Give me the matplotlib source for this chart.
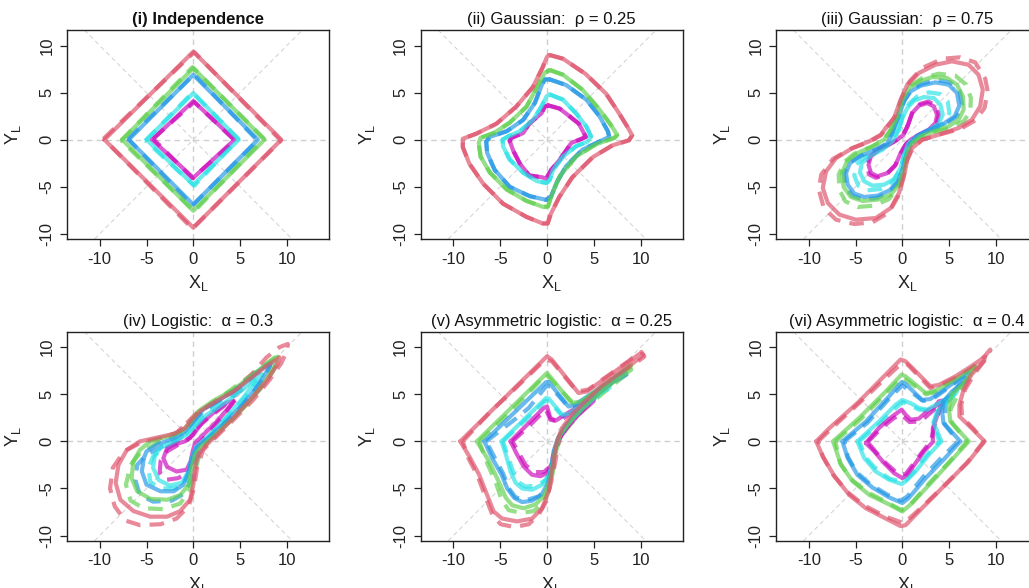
import matplotlib
matplotlib.use('Agg')
import matplotlib.pyplot as plt

plt.rcParams['font.family'] = ['Liberation Sans', 'DejaVu Sans']
plt.rcParams['mathtext.fontset'] = 'custom'
plt.rcParams['mathtext.rm'] = 'Liberation Sans'
plt.rcParams['mathtext.it'] = 'Liberation Sans:italic'
plt.rcParams['axes.unicode_minus'] = False

# level colours, inner to outer (R 4 palette)
level_cols = ['#CD0BBC', '#28E2E5', '#2297E6', '#61D04F', '#DF536B']

titles = ['(i) Independence', '(ii) Gaussian:  ρ = 0.25', '(iii) Gaussian:  ρ = 0.75',
          '(iv) Logistic:  α = 0.3', '(v) Asymmetric logistic:  α = 0.25',
          '(vi) Asymmetric logistic:  α = 0.4']
ticks = [-10, -5, 0, 5, 10]

# (i) independence: solid = true, dashed = estimated
indep_solid = [
    [(-4.4, 0), (0, 4.1), (4.4, 0), (0, -4.05)],
    [(-5.0, 0), (0, 4.95), (4.85, 0), (0, -4.8)],
    [(-6.9, 0), (0, 6.9), (6.9, 0), (0, -6.9)],
    [(-7.6, 0), (0, 7.6), (7.6, 0), (0, -7.55)],
    [(-9.5, 0), (0, 9.35), (9.4, 0), (0, -9.35)],
]
indep_dashed = [
    [(-4.3, 0.1), (0.1, 4.0), (4.45, -0.1), (-0.1, -4.1)],
    [(-5.1, -0.1), (-0.1, 5.0), (4.8, 0.1), (0.1, -4.9)],
    [(-7.0, 0.1), (0.1, 6.95), (6.85, -0.1), (-0.1, -7.0)],
    [(-7.7, -0.1), (-0.1, 7.7), (7.55, 0.1), (0.1, -7.6)],
    [(-9.6, 0.1), (0.1, 9.3), (9.35, -0.1), (-0.1, -9.45)],
]

# (ii) Gaussian rho = 0.25
g25_solid = [
    [(0.1, 3.65), (1.35, 3.3), (2.0, 2.8), (3.4, 1.7), (4.15, 0.3), (3.65, 0.07), (2.6, -0.35),
     (1.3, -2.2), (0.45, -3.2), (-0.1, -4.15), (-0.5, -4.0), (-1.9, -3.8), (-2.9, -2.55),
     (-3.6, -1.2), (-4.0, -0.1), (-3.8, 0.2), (-2.55, 0.7), (-1.9, 1.7), (-0.6, 2.8), (-0.25, 3.5)],
    [(0.3, 4.8), (1.7, 4.25), (3.1, 2.8), (4.2, 1.4), (4.7, 0.35), (4.35, -0.2), (3.1, -0.7),
     (1.7, -1.8), (0.65, -3.2), (0.3, -4.25), (-0.05, -4.6), (-1.1, -4.4), (-2.55, -3.5),
     (-4.0, -2.1), (-4.7, -0.7), (-4.75, 0.0), (-4.15, 0.35), (-2.9, 0.9), (-1.5, 2.1),
     (-0.6, 3.5), (-0.05, 4.6)],
    [(0.3, 6.4), (2.05, 5.8), (4.2, 4.25), (5.6, 2.5), (6.5, 0.9), (6.65, 0.3), (5.6, -0.2),
     (3.8, -1.05), (2.05, -2.8), (1.0, -4.6), (0.45, -6.0), (-0.05, -6.4), (-1.85, -6.0),
     (-4.0, -5.0), (-5.6, -3.2), (-6.4, -1.4), (-6.5, -0.2), (-6.1, 0.3), (-4.3, 0.9),
     (-2.55, 2.1), (-1.3, 3.9), (-0.6, 5.7), (-0.25, 6.4)],
    [(0.3, 7.4), (1.7, 6.9), (3.8, 5.3), (5.6, 3.2), (6.8, 1.6), (7.5, 0.5), (7.2, 0.2),
     (5.2, -0.5), (3.1, -1.8), (1.35, -3.9), (0.45, -6.0), (0.1, -7.1), (-0.4, -7.15),
     (-2.2, -6.5), (-4.3, -5.3), (-6.1, -3.5), (-7.1, -1.8), (-7.3, -0.35), (-7.1, 0.2),
     (-5.7, 0.7), (-4.0, 1.8), (-2.2, 3.5), (-1.0, 5.7), (-0.25, 7.1)],
    [(0.25, 9.0), (1.7, 8.6), (4.1, 7.0), (6.3, 4.9), (7.7, 2.8), (8.6, 1.35), (9.1, 0.46),
     (8.75, -0.07), (7.0, -0.6), (4.9, -1.85), (2.7, -4.0), (1.3, -6.1), (0.4, -7.9),
     (0.07, -8.9), (-0.46, -8.9), (-2.2, -8.2), (-4.7, -6.8), (-6.8, -4.7), (-8.3, -2.55),
     (-9.0, -0.8), (-9.0, 0.1), (-7.55, 0.64), (-5.4, 1.7), (-3.3, 3.5), (-1.5, 5.6),
     (-0.46, 7.7), (0.0, 8.8)],
]
g25_dashed = g25_solid

# (iii) Gaussian rho = 0.75
g75_solid = [
    [(0.53, 1.42), (1.06, 2.83), (1.77, 3.61), (2.65, 3.89), (3.36, 3.54), (3.72, 2.65),
     (3.54, 1.77), (2.83, 1.06), (1.77, 0.53), (0.88, 0.0), (0.35, -0.53), (-0.18, -1.42),
     (-0.71, -2.65), (-1.59, -3.54), (-2.65, -3.89), (-3.36, -3.54), (-3.61, -2.65),
     (-3.36, -1.77), (-2.48, -1.06), (-1.42, -0.53), (-0.53, 0.0), (0.1, 0.5)],
    [(-0.35, 1.06), (0.0, 2.30), (0.53, 3.36), (1.24, 4.14), (2.30, 4.53), (3.36, 4.42),
     (4.07, 3.72), (4.32, 2.65), (3.89, 1.70), (2.83, 0.99), (1.59, 0.35), (0.64, -0.42),
     (0.18, -1.59), (-0.18, -3.01), (-0.88, -4.18), (-1.95, -4.78), (-3.19, -4.88),
     (-4.07, -4.42), (-4.53, -3.47), (-4.32, -2.48), (-3.36, -1.70), (-2.12, -1.06),
     (-1.06, -0.18)],
    [(-0.88, 1.24), (-0.35, 2.65), (0.18, 4.07), (0.88, 5.13), (1.95, 5.73), (3.54, 6.09),
     (4.96, 5.84), (5.84, 4.96), (6.09, 3.61), (5.59, 2.48), (4.42, 1.70), (2.83, 1.06),
     (1.59, 0.42), (0.88, -0.35), (0.46, -1.49), (0.07, -3.01), (-0.46, -4.42),
     (-1.35, -5.38), (-2.65, -5.95), (-4.07, -6.09), (-5.13, -5.73), (-5.84, -4.78),
     (-6.02, -3.54), (-5.59, -2.48), (-4.42, -1.70), (-2.83, -1.06), (-1.59, -0.42)],
    [(-1.24, 1.06), (-0.53, 2.48), (0.0, 4.25), (0.71, 5.49), (1.77, 6.19), (3.19, 6.65),
     (4.78, 6.55), (5.84, 5.84), (6.48, 4.60), (6.55, 3.19), (6.02, 2.12), (4.96, 1.42),
     (3.36, 0.88), (1.95, 0.35), (1.06, -0.35), (0.53, -1.42), (0.18, -3.19), (-0.35, -4.78),
     (-1.24, -5.84), (-2.65, -6.37), (-4.25, -6.51), (-5.49, -6.09), (-6.27, -5.03),
     (-6.44, -3.54), (-5.91, -2.30), (-4.78, -1.42), (-3.19, -0.71), (-1.95, 0.0)],
    [(-1.77, 1.24), (-0.88, 2.30), (-0.18, 4.25), (0.53, 5.84), (1.77, 7.08), (3.54, 7.96),
     (5.31, 8.32), (7.08, 7.96), (8.14, 6.90), (8.60, 5.31), (8.32, 3.54), (7.43, 2.12),
     (6.02, 1.24), (3.89, 0.53), (2.12, 0.0), (1.06, -0.88), (0.53, -2.12), (0.18, -3.89),
     (-0.35, -5.66), (-1.24, -7.26), (-2.83, -8.32), (-4.96, -8.50), (-6.73, -7.96),
     (-7.96, -6.73), (-8.50, -5.13), (-8.14, -3.36), (-7.08, -1.95), (-5.31, -0.88),
     (-3.54, -0.18), (-2.30, 0.53)],
]
g75_dashed = [
    [(0.6, 1.5), (1.1, 3.0), (1.9, 3.8), (2.8, 4.05), (3.55, 3.65), (3.9, 2.7), (3.7, 1.75),
     (2.9, 1.0), (1.8, 0.5), (0.9, 0.0), (0.35, -0.55), (-0.2, -1.5), (-0.8, -2.8),
     (-1.7, -3.7), (-2.8, -4.05), (-3.55, -3.7), (-3.8, -2.75), (-3.5, -1.8), (-2.5, -1.05),
     (-1.45, -0.5), (-0.55, 0.0), (0.1, 0.5)],
    [(-0.35, 1.24), (0.07, 2.65), (0.71, 3.82), (1.59, 4.60), (2.83, 5.03), (4.07, 4.85),
     (4.85, 4.07), (5.03, 2.83), (4.42, 1.70), (3.19, 0.88), (1.77, 0.28), (0.71, -0.53),
     (0.18, -1.77), (-0.25, -3.26), (-1.06, -4.53), (-2.30, -5.24), (-3.72, -5.38),
     (-4.71, -4.88), (-5.13, -3.82), (-4.96, -2.65), (-3.89, -1.77), (-2.48, -1.13),
     (-1.24, -0.28)],
    [(-0.85, 1.3), (-0.3, 2.75), (0.25, 4.25), (1.0, 5.35), (2.1, 5.95), (3.6, 6.35),
     (5.1, 6.1), (6.1, 5.15), (6.4, 3.7), (5.85, 2.5), (4.55, 1.65), (2.9, 1.0), (1.6, 0.4),
     (0.88, -0.35), (0.45, -1.55), (0.05, -3.15), (-0.5, -4.6), (-1.45, -5.6), (-2.75, -6.2),
     (-4.2, -6.35), (-5.35, -5.95), (-6.1, -4.9), (-6.25, -3.6), (-5.75, -2.5), (-4.5, -1.7),
     (-2.85, -1.05), (-1.6, -0.4)],
    [(-1.17, 1.13), (-0.46, 2.65), (0.07, 4.42), (0.88, 5.73), (2.12, 6.55), (3.89, 7.01),
     (5.66, 6.80), (6.83, 5.84), (7.33, 4.42), (7.26, 3.01), (6.55, 1.95), (5.13, 1.24),
     (3.36, 0.78), (1.95, 0.28), (1.06, -0.42), (0.46, -1.59), (0.07, -3.36), (-0.46, -5.13),
     (-1.42, -6.30), (-3.01, -7.01), (-4.78, -7.15), (-6.09, -6.55), (-6.73, -5.31),
     (-6.80, -3.72), (-6.19, -2.37), (-5.13, -1.49), (-3.36, -0.78), (-2.02, -0.07)],
    [(-1.59, 1.35), (-0.78, 2.48), (-0.07, 4.42), (0.78, 6.19), (2.12, 7.61), (4.3, 8.6),
     (6.19, 8.75), (7.79, 8.21), (8.85, 6.50), (9.13, 5.13), (8.78, 3.36), (7.79, 2.05),
     (6.19, 1.13), (3.89, 0.53), (2.12, 0.0), (1.06, -0.99), (0.46, -2.30), (0.07, -4.07),
     (-0.46, -6.02), (-1.42, -7.72), (-3.19, -8.78), (-5.13, -8.96), (-7.08, -8.50),
     (-8.39, -7.26), (-8.92, -5.31), (-8.67, -3.72), (-7.43, -2.05), (-5.49, -0.96),
     (-3.61, -0.25), (-2.30, 0.46)],
]

# (iv) logistic alpha = 0.3
log_solid = [
    [(-2.8, -0.7), (-3.2, -1.8), (-2.8, -2.7), (-1.8, -3.2), (-0.7, -3.0), (-0.28, -2.1),
     (-0.07, -1.06), (0.18, -0.18), (1.06, 0.7), (2.5, 2.1), (3.9, 3.7), (4.3, 4.3),
     (3.5, 4.1), (2.1, 3.0), (0.9, 1.95), (0.0, 0.7), (-0.9, 0.0), (-2.1, -0.35)],
    [(-4.1, -1.4), (-4.3, -2.8), (-3.7, -4.1), (-2.5, -4.7), (-1.24, -4.4), (-0.5, -3.2),
     (-0.18, -1.8), (0.35, -0.5), (1.8, 0.7), (3.5, 2.5), (5.3, 4.6), (6.7, 6.4), (7.4, 7.1),
     (6.4, 6.4), (4.6, 5.0), (2.8, 3.7), (1.24, 2.7), (0.18, 1.6), (-0.7, 0.7), (-2.1, 0.0),
     (-3.4, -0.6)],
    [(-5.3, -1.8), (-5.5, -3.2), (-5.0, -4.6), (-3.5, -5.3), (-2.1, -5.3), (-1.06, -4.6),
     (-0.5, -3.2), (-0.18, -1.8), (0.35, -0.7), (1.6, 0.35), (3.5, 2.1), (5.3, 3.9),
     (6.9, 5.9), (8.2, 8.0), (8.0, 8.2), (6.7, 7.3), (4.8, 5.7), (2.8, 4.4), (1.06, 3.4),
     (0.0, 2.1), (-0.9, 1.06), (-2.1, 0.35), (-3.9, -0.35), (-5.0, -1.06)],
    [(-6.4, -2.1), (-6.6, -3.9), (-6.0, -5.3), (-4.6, -6.1), (-2.8, -6.2), (-1.4, -5.7),
     (-0.5, -4.6), (-0.18, -2.8), (0.18, -1.4), (0.9, -0.5), (2.1, 0.5), (3.9, 2.1),
     (5.7, 3.9), (7.4, 6.0), (8.7, 8.0), (9.0, 9.0), (8.2, 8.5), (6.4, 7.1), (4.3, 5.5),
     (2.1, 4.3), (0.53, 3.2), (-0.35, 1.95), (-1.24, 1.06), (-2.8, 0.53), (-4.6, 0.0),
     (-5.7, -0.9)],
    [(9.2, 8.9), (7.8, 8.0), (6.0, 6.6), (4.3, 5.3), (2.5, 4.3), (0.7, 3.2), (-0.18, 2.3),
     (-0.9, 1.4), (-2.1, 0.8), (-3.9, 0.4), (-5.7, 0.0), (-7.1, -0.9), (-8.0, -2.5),
     (-8.3, -4.4), (-7.8, -6.2), (-6.4, -7.4), (-4.6, -8.0), (-2.8, -8.0), (-1.4, -7.4),
     (-0.35, -6.2), (0.0, -4.6), (0.18, -2.8), (0.53, -1.4), (1.24, -0.53), (2.5, 0.7),
     (4.3, 2.5), (6.0, 4.3), (7.8, 6.4), (9.0, 8.2)],
]
log_dashed = [
    [(0.35, 1.4), (1.6, 2.5), (3.2, 3.7), (4.8, 5.3), (5.1, 5.5), (4.4, 4.3), (3.0, 2.5),
     (1.6, 0.9), (0.53, -0.35), (0.0, -1.8), (-0.53, -3.2), (-1.6, -3.9), (-3.0, -4.1),
     (-3.6, -3.4), (-3.5, -2.1), (-2.8, -1.06), (-1.6, -0.35), (-0.35, 0.35)],
    [(0.0, 1.6), (1.24, 2.8), (3.0, 4.1), (4.8, 5.3), (6.4, 6.6), (6.7, 6.3), (5.5, 4.6),
     (3.7, 2.7), (1.8, 0.7), (0.5, -0.7), (-0.07, -2.5), (-0.7, -4.1), (-1.95, -5.0),
     (-3.5, -5.0), (-4.6, -4.3), (-4.8, -2.8), (-4.3, -1.6), (-3.0, -0.7), (-1.4, 0.18)],
    [(-0.18, 1.95), (1.06, 3.2), (3.0, 4.5), (5.0, 5.9), (6.9, 7.3), (8.3, 8.3), (7.8, 7.1),
     (6.2, 5.0), (4.3, 2.8), (2.1, 0.7), (0.9, -0.5), (0.18, -2.1), (-0.18, -3.9),
     (-0.9, -5.5), (-2.3, -6.3), (-4.3, -6.4), (-5.7, -5.7), (-6.2, -4.1), (-6.0, -2.5),
     (-5.0, -1.4), (-3.2, -0.5), (-1.4, 0.35)],
    [(-0.5, 1.8), (0.5, 3.0), (2.5, 4.4), (4.6, 5.9), (6.7, 7.4), (8.7, 8.9), (9.0, 8.7),
     (8.5, 7.4), (7.1, 5.5), (5.1, 3.4), (3.2, 1.6), (1.6, 0.0), (0.7, -1.24), (0.18, -3.2),
     (-0.35, -5.1), (-1.4, -6.6), (-3.2, -7.2), (-5.3, -7.1), (-6.7, -6.3), (-7.2, -4.6),
     (-6.7, -2.5), (-5.7, -1.24), (-3.9, -0.18), (-2.1, 0.53)],
    [(-0.7, 1.95), (0.35, 3.0), (2.1, 4.1), (4.3, 5.3), (6.4, 7.3), (7.8, 8.9), (9.2, 10.0),
     (10.1, 10.35), (10.0, 9.6), (9.4, 8.3), (8.2, 6.6), (6.4, 4.4), (4.3, 2.3), (2.3, 0.35),
     (1.06, -0.9), (0.4, -2.8), (0.07, -5.0), (-0.5, -6.9), (-1.8, -8.2), (-3.5, -8.8),
     (-5.7, -8.9), (-7.3, -8.4), (-8.4, -6.9), (-8.9, -5.0), (-8.6, -2.8), (-7.4, -1.06),
     (-5.7, -0.18), (-3.5, 0.35), (-1.8, 0.9)],
]

# (v) asymmetric logistic alpha = 0.25
alog25_solid = [
    [(-3.9, 0.0), (-0.35, 3.55), (0.0, 3.7), (0.35, 2.5), (0.9, 2.2), (1.4, 2.5), (5.1, 4.8),
     (4.96, 4.25), (3.36, 2.84), (2.1, 1.4), (1.24, 0.18), (0.8, -1.06), (0.53, -2.3),
     (0.0, -3.36), (-0.7, -3.7), (-1.6, -3.55), (-2.5, -2.66), (-3.2, -1.4)],
    [(-4.85, 0.0), (-0.1, 4.6), (0.18, 4.55), (1.6, 2.84), (2.3, 2.9), (6.55, 6.0), (6.7, 5.7),
     (5.5, 5.0), (3.7, 3.4), (2.3, 1.95), (1.4, 0.7), (0.9, -0.7), (0.6, -2.1), (0.25, -3.55),
     (-0.53, -4.6), (-1.6, -5.14), (-2.65, -5.0), (-3.36, -4.4), (-3.9, -3.2), (-4.4, -1.4)],
    [(-6.7, 0.0), (-0.1, 6.3), (0.18, 6.3), (2.3, 3.7), (3.0, 3.9), (8.3, 7.45), (8.5, 7.1),
     (6.9, 6.2), (4.8, 4.6), (3.2, 3.0), (1.95, 1.6), (1.17, 0.35), (0.7, -1.06), (0.46, -2.8),
     (0.1, -4.4), (-0.6, -5.7), (-1.6, -6.3), (-2.65, -6.45), (-3.5, -6.0), (-4.25, -5.0),
     (-4.85, -3.55), (-5.85, -1.8)],
    [(-7.5, 0.0), (0.0, 7.27), (2.65, 4.08), (3.7, 4.25), (8.85, 8.0), (9.0, 7.6), (7.6, 6.7),
     (5.5, 5.1), (3.7, 3.5), (2.3, 1.95), (1.4, 0.7), (0.9, -0.7), (0.6, -2.5), (0.25, -4.25),
     (-0.35, -5.85), (-1.24, -6.7), (-2.5, -7.1), (-3.7, -6.8), (-4.4, -6.0), (-5.1, -4.4),
     (-6.2, -2.1)],
    [(-9.27, 0.0), (0.0, 9.04), (0.5, 8.7), (3.36, 5.14), (4.25, 5.3), (9.9, 9.3), (10.3, 9.2),
     (9.7, 8.7), (8.0, 7.4), (5.8, 5.85), (4.1, 4.25), (2.65, 2.84), (1.6, 1.4), (1.06, 0.0),
     (0.8, -1.4), (0.53, -3.2), (0.18, -5.3), (-0.53, -7.1), (-1.6, -8.2), (-3.2, -8.5),
     (-4.8, -8.2), (-5.7, -7.45), (-6.4, -5.7), (-7.25, -3.55), (-8.3, -1.6)],
]
alog25_dashed = [
    [(-3.7, 0.0), (-1.95, 1.6), (-0.53, 3.0), (-0.1, 3.36), (0.35, 2.3), (1.24, 2.1), (4.8, 4.6),
     (4.4, 3.9), (3.0, 2.55), (1.9, 1.24), (1.06, 0.0), (0.7, -1.4), (0.35, -2.66),
     (-0.35, -3.26), (-1.4, -3.26), (-2.3, -2.5), (-3.0, -1.24)],
    [(-4.7, 0.0), (-2.5, 2.1), (-0.18, 4.3), (0.25, 4.25), (1.66, 2.66), (2.5, 2.77), (6.2, 5.6),
     (5.1, 4.6), (3.4, 3.0), (2.1, 1.6), (1.24, 0.35), (0.8, -1.24), (0.46, -2.84),
     (-0.1, -4.07), (-1.06, -4.7), (-2.3, -4.8), (-3.2, -4.25), (-3.7, -3.0), (-4.25, -1.4)],
    [(-6.5, 0.0), (-3.36, 2.4), (-1.95, 3.55), (-0.1, 5.85), (0.35, 5.85), (2.37, 3.55),
     (3.2, 3.8), (8.1, 7.4), (6.7, 6.0), (4.6, 4.3), (3.0, 2.8), (1.9, 1.4), (1.24, 0.18),
     (0.8, -1.4), (0.53, -3.2), (0.0, -5.0), (-0.9, -5.85), (-2.1, -6.2), (-3.36, -5.95),
     (-4.07, -5.0), (-4.7, -3.4), (-5.66, -1.6)],
    [(-7.25, 0.0), (-4.07, 3.0), (-0.1, 7.1), (2.65, 4.2), (3.9, 4.3), (9.0, 8.1), (8.7, 7.3),
     (6.2, 5.3), (3.9, 3.4), (2.5, 1.8), (1.5, 0.53), (1.0, -0.9), (0.7, -2.8), (0.35, -4.8),
     (-0.35, -6.4), (-1.4, -7.4), (-2.8, -7.6), (-4.1, -7.3), (-4.85, -6.2), (-5.4, -4.6),
     (-6.4, -2.3)],
    [(-9.0, 0.0), (-6.2, 3.0), (-3.0, 6.0), (-0.18, 8.7), (0.53, 8.5), (3.2, 5.3), (4.4, 5.5),
     (10.1, 9.5), (10.4, 9.0), (8.1, 7.3), (6.0, 5.5), (4.25, 3.9), (2.65, 2.5), (1.66, 1.06),
     (1.17, -0.35), (0.9, -2.1), (0.46, -4.25), (-0.1, -6.4), (-0.9, -7.8), (-1.95, -8.8),
     (-3.5, -9.1), (-4.96, -8.8), (-5.84, -7.8), (-6.55, -6.0), (-7.4, -3.7), (-8.5, -1.6)],
]

# (vi) asymmetric logistic alpha = 0.4
alog40_solid = [
    [(-3.9, -0.18), (-2.5, 1.42), (-1.06, 2.66), (-0.07, 3.37), (0.35, 2.84), (0.88, 2.3),
     (1.77, 2.41), (2.83, 3.37), (3.36, 3.55), (3.9, 4.25), (4.25, 4.33), (3.9, 3.2),
     (3.26, 1.42), (3.26, -0.07), (2.3, -1.06), (1.42, -2.3), (0.53, -3.55), (0.0, -3.9),
     (-0.88, -3.37), (-1.95, -2.3), (-3.0, -1.06)],
    [(-4.8, 0.0), (-2.5, 2.1), (-0.7, 3.9), (0.0, 4.4), (1.06, 3.97), (1.77, 3.55), (2.66, 3.37),
     (4.25, 4.25), (5.84, 5.3), (5.3, 4.6), (3.9, 3.37), (3.36, 1.95), (4.18, 0.0),
     (2.83, -1.42), (1.42, -3.2), (0.35, -4.25), (-0.07, -4.54), (-1.42, -4.07),
     (-2.83, -3.2), (-4.07, -1.77)],
    [(-6.4, 0.0), (-3.9, 2.1), (-1.4, 4.8), (-0.07, 6.3), (0.35, 6.1), (2.1, 4.4), (3.0, 4.5),
     (4.96, 5.85), (7.1, 7.3), (6.7, 6.4), (5.3, 5.3), (4.4, 4.25), (4.25, 3.2), (4.4, 1.95),
     (6.2, 0.0), (4.4, -1.95), (2.5, -3.9), (0.7, -6.0), (0.0, -6.55), (-1.4, -5.95),
     (-3.2, -4.9), (-4.8, -3.55), (-5.84, -1.77)],
    [(-7.4, 0.0), (-4.6, 2.5), (-1.77, 5.3), (-0.07, 7.1), (0.35, 6.9), (2.5, 5.14), (3.36, 5.3),
     (5.3, 6.4), (6.7, 7.3), (7.8, 8.0), (7.4, 7.3), (6.4, 6.0), (5.3, 5.0), (4.96, 3.55),
     (5.14, 2.1), (7.1, 0.0), (5.3, -1.95), (3.2, -4.25), (1.06, -6.55), (0.0, -7.45),
     (-1.4, -6.7), (-3.5, -5.7), (-5.3, -4.25), (-6.55, -2.5)],
    [(-9.2, 0.0), (-7.8, 1.4), (-4.6, 4.25), (-1.77, 7.1), (-0.18, 8.7), (0.35, 8.5), (1.77, 7.1),
     (3.0, 5.85), (3.9, 6.0), (5.66, 6.9), (7.4, 8.0), (8.85, 9.0), (8.7, 8.5), (7.4, 7.1),
     (6.55, 5.5), (6.1, 3.9), (6.1, 2.66), (7.4, 1.4), (8.8, 0.0), (7.1, -2.1), (4.6, -4.6),
     (2.1, -7.1), (0.35, -8.9), (-0.18, -9.0), (-1.77, -8.2), (-3.9, -7.1), (-5.66, -5.7),
     (-7.25, -3.7), (-8.5, -1.6)],
]
alog40_dashed = [
    [(-3.7, -0.07), (-2.3, 1.35), (-0.99, 2.41), (-0.18, 2.9), (0.78, 2.05), (1.95, 2.13),
     (3.19, 3.19), (4.32, 4.18), (3.6, 2.3), (3.04, 0.0), (2.05, -1.24), (1.13, -2.48),
     (0.35, -3.47), (-0.35, -3.55), (-1.77, -2.3), (-2.83, -1.13)],
    [(-4.6, 0.0), (-2.3, 2.0), (-0.53, 3.7), (0.07, 4.18), (1.77, 3.37), (2.83, 3.26),
     (5.66, 5.14), (3.72, 3.2), (3.26, 1.77), (3.97, 0.0), (2.55, -1.5), (1.2, -3.26),
     (0.18, -4.33), (-1.35, -3.97), (-2.76, -3.0), (-3.97, -1.63)],
    [(-6.2, 0.0), (-3.7, 2.0), (-1.35, 4.6), (0.0, 5.95), (2.2, 4.3), (3.1, 4.4), (6.9, 7.1),
     (5.5, 5.25), (4.6, 4.07), (4.5, 1.84), (5.95, 0.0), (4.07, -1.84), (2.2, -3.8),
     (0.53, -5.85), (-0.18, -6.3), (-1.6, -5.66), (-3.36, -4.6), (-4.9, -3.26), (-5.84, -1.6)],
    [(-7.15, 0.0), (-4.4, 2.4), (-1.6, 5.25), (0.0, 6.8), (2.55, 5.0), (3.47, 5.25), (7.7, 7.9),
     (6.55, 6.1), (5.14, 3.4), (5.3, 2.0), (6.9, 0.0), (5.14, -2.05), (3.0, -4.3),
     (0.9, -6.65), (-0.07, -7.3), (-1.6, -6.5), (-3.7, -5.4), (-5.5, -4.0), (-6.65, -2.3)],
    [(-9.0, 0.0), (-7.1, 1.8), (-4.25, 4.4), (-1.6, 6.9), (-0.07, 8.3), (0.53, 8.2), (3.0, 5.66),
     (4.07, 5.95), (6.4, 7.1), (8.14, 8.3), (9.4, 9.75), (9.0, 8.9), (7.8, 7.3), (6.7, 5.5),
     (6.3, 3.9), (6.4, 2.55), (7.6, 1.35), (8.7, 0.0), (6.9, -2.3), (4.4, -4.8), (1.95, -7.1),
     (0.18, -8.7), (-1.77, -8.0), (-4.07, -6.8), (-5.84, -5.4), (-7.4, -3.55), (-8.5, -1.6)],
]

panels = [(indep_solid, indep_dashed), (g25_solid, g25_dashed), (g75_solid, g75_dashed),
          (log_solid, log_dashed), (alog25_solid, alog25_dashed), (alog40_solid, alog40_dashed)]

W, H = 1029, 588
fig = plt.figure(figsize=(W / 100, H / 100), dpi=100)

lefts = [67, 420.7, 776]
tops = [30, 331.7]
aw, ah = 262, 209

for k, (solid, dashed) in enumerate(panels):
    r, c = divmod(k, 3)
    ax = fig.add_axes([lefts[c] / W, 1 - (tops[r] + ah) / H, aw / W, ah / H])
    ax.set_xlim(-13.5, 14.5)
    ax.set_ylim(-10.55, 11.65)

    # guide lines
    ax.axhline(0, color='#cfcfcf', lw=1.0, ls=(0, (4, 3)), zorder=1)
    ax.axvline(0, color='#cfcfcf', lw=1.0, ls=(0, (4, 3)), zorder=1)
    ax.axline((0, 0), slope=1, color='#d6d6d6', lw=0.8, ls=(0, (4, 3)), zorder=1)
    ax.axline((0, 0), slope=-1, color='#d6d6d6', lw=0.8, ls=(0, (4, 3)), zorder=1)

    for lev in range(5):
        col = level_cols[lev]
        pts = dashed[lev] + [dashed[lev][0]]
        ax.plot([p[0] for p in pts], [p[1] for p in pts], color=col, lw=3, alpha=0.68,
                ls=(0, (3.5, 2.2)), dash_capstyle='butt', zorder=2)
        pts = solid[lev] + [solid[lev][0]]
        ax.plot([p[0] for p in pts], [p[1] for p in pts], color=col, lw=3, alpha=0.68,
                solid_joinstyle='round', solid_capstyle='round', zorder=3)

    ax.set_xticks(ticks)
    ax.set_yticks(ticks)
    ax.tick_params(length=5, width=0.9, pad=4, labelsize=12, colors='#222222')
    plt.setp(ax.get_yticklabels(), rotation=90, va='center')
    for s in ax.spines.values():
        s.set_linewidth(1.0)
        s.set_color('#222222')
    ax.set_xlabel(r'X$_\mathrm{L}$', fontsize=13, labelpad=5, color='#222222')
    ax.set_ylabel(r'Y$_\mathrm{L}$', fontsize=13, labelpad=12, color='#222222')
    ax.set_title(titles[k], fontsize=12, pad=4, color='#111111',
                 fontweight='bold' if k == 0 else 'normal')

fig.savefig('out.png', dpi=100)
